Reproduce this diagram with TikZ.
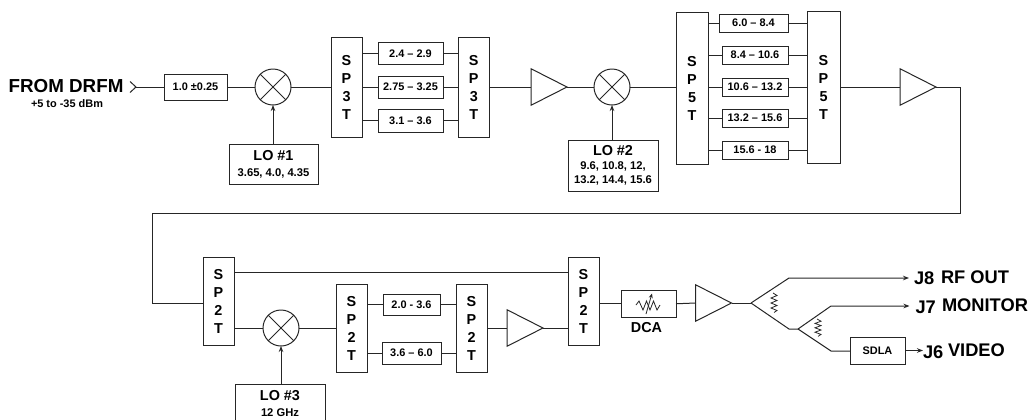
\documentclass[tikz,border=0pt]{standalone}
\usepackage{fontspec}
\setmainfont{Liberation Sans}
\usetikzlibrary{arrows.meta,shapes.geometric}
\newcommand\rfbox[6][]{%
  \pgfmathsetmacro\bcx{(#3+#5)/2}%
  \pgfmathsetmacro\bcy{(#4+#6)/2}%
  \pgfmathsetmacro\bw{(#5-#3)*0.75}%
  \pgfmathsetmacro\bh{(#6-#4)*0.75}%
  \node[rfblock,minimum width=\bw pt,minimum height=\bh pt,#1] (#2) at (\bcx,\bcy)}
\tikzset{
  x=0.75pt,y=-0.75pt,
  wire/.style={line width=0.75pt,black!85,line join=miter},
  arr/.style={wire,-{Stealth[length=4.5pt,width=3.4pt]}},
  rfblock/.style={draw=black!85,line width=0.75pt,inner sep=0pt,outer sep=0pt,fill=white,align=center},
  small/.style={font=\fontsize{8.2}{10.5}\selectfont\bfseries},
  sw/.style={font=\fontsize{10.8}{13.5}\selectfont\bfseries},
  mid/.style={font=\fontsize{10.8}{13.5}\selectfont\bfseries},
  big/.style={font=\fontsize{13.7}{16}\selectfont\bfseries},
  lobox/.style={font=\fontsize{10.8}{11}\selectfont\bfseries},
  mixer/.style={circle,draw=black!85,line width=0.75pt,minimum size=27pt,inner sep=0pt,outer sep=0pt,
    path picture={\draw[line width=0.75pt,black!85]
      (path picture bounding box.north west)--(path picture bounding box.south east)
      (path picture bounding box.north east)--(path picture bounding box.south west);}},
  amp/.style={isosceles triangle,isosceles triangle stretches,draw=black!85,line width=0.75pt,
    minimum width=27.4pt,minimum height=27pt,inner sep=0pt,outer sep=0pt,anchor=lower side},
  txt/.style={inner sep=0pt,outer sep=0pt},
}
\newcommand\losub{\fontsize{8.4}{10.8}\selectfont}
\begin{document}
\begin{tikzpicture}
\useasboundingbox (0,0) rectangle (1031,419);
% input
\node[txt,font=\fontsize{14.1}{16}\selectfont\bfseries] (from) at (66,86) {FROM DRFM};
\node[txt,small] (dbm) at (67,104) {+5 to -35 dBm};
\coordinate (ch1) at (130,81.5);
\coordinate (ch2) at (136,87);
\coordinate (ch3) at (130,92.5);
\rfbox[small]{f0}{164}{74}{227}{100}{1.0 ±0.25};
\node[mixer] (m1) at (273,87) {};
\rfbox[lobox]{lo1}{229}{144}{318}{184}{LO \#1\\[1pt]\losub 3.65, 4.0, 4.35};
\rfbox[sw]{s31}{331}{37}{362}{137}{S\\P\\3\\T};
\rfbox[small]{f31}{378}{42.7}{443}{64.7}{2.4 – 2.9};
\rfbox[small]{f32}{378}{76}{443}{98}{2.75 – 3.25};
\rfbox[small]{f33}{378}{109.5}{443}{132}{3.1 – 3.6};
\rfbox[sw]{s32}{458.5}{37}{489}{137}{S\\P\\3\\T};
\node[amp] (a1) at (531,87) {};
\node[mixer] (m2) at (612,87) {};
\rfbox[lobox]{lo2}{568}{140}{658}{191}{LO \#2\\[-0.5pt]\losub 9.6, 10.8, 12,\\[-0.5pt]\losub 13.2, 14.4, 15.6};
\rfbox[sw]{s51}{676}{12}{708}{164}{S\\P\\5\\T};
\rfbox[small]{f51}{719}{14}{788}{32}{6.0 – 8.4};
\rfbox[small]{f52}{722}{46}{788}{64}{8.4 – 10.6};
\rfbox[small]{f53}{722}{78}{788}{96}{10.6 – 13.2};
\rfbox[small]{f54}{722}{109}{788}{127}{13.2 – 15.6};
\rfbox[small]{f55}{722}{141}{788}{159}{15.6 - 18};
\rfbox[sw]{s52}{807}{11}{840}{163}{S\\P\\5\\T};
\node[amp] (a2) at (900,87) {};
\coordinate (c1) at (960,213);
\coordinate (c2) at (152,303);
% second row
\rfbox[sw]{s21}{203}{257}{234}{345}{S\\P\\2\\T};
\node[mixer] (m3) at (281,328) {};
\rfbox[lobox]{lo3}{235}{384}{325}{423}{LO \#3\\[1.5pt]\losub 12 GHz};
\rfbox[sw]{s22}{336}{284}{367}{372}{S\\P\\2\\T};
\rfbox[small]{f21}{383}{294}{440}{315}{2.0 - 3.6};
\rfbox[small]{f22}{382}{342}{441}{364}{3.6 – 6.0};
\rfbox[sw]{s23}{456}{284}{487}{372}{S\\P\\2\\T};
\node[amp] (a3) at (507,328) {};
\rfbox[sw]{s24}{568}{257}{599}{345}{S\\P\\2\\T};
\rfbox{dca}{621}{290}{676}{317.5}{};
\node[txt,mid] (dcat) at (646.5,328) {DCA};
\node[amp] (a4) at (695.5,303) {};
\coordinate (sp1) at (751,303);
\coordinate (sp1u) at (789,278);
\coordinate (sp1d) at (789,329);
\coordinate (sp2) at (798,329);
\coordinate (sp2u) at (831,306);
\coordinate (sp2d) at (831,351);
\coordinate (t8) at (909,278);
\coordinate (t7) at (909.5,306);
\rfbox[small]{sdla}{850}{337}{905}{364}{SDLA};
\node[txt,big,anchor=west] (j8) at (914,278.5) {J8};
\node[txt,big,anchor=west] (rf) at (941,277.5) {RF OUT};
\node[txt,big,anchor=west] (j7) at (915.5,307) {J7};
\node[txt,big,anchor=west] (mon) at (942,305.5) {MONITOR};
\node[txt,big,anchor=west] (j6) at (923,352) {J6};
\node[txt,big,anchor=west] (vid) at (948,350) {VIDEO};
% wires row 1
\draw[wire] (ch1)--(ch2)--(ch3);
\draw[wire] (ch2)--(f0.west);
\draw[wire] (f0.east)--(m1.west);
\draw[wire] (m1.east)--(m1.east-|s31.west);
\draw[arr] (lo1.north-|m1.south)--(m1.south);
\foreach \f in {f31,f32,f33}{
  \draw[wire] (s31.east|-\f.west)--(\f.west);
  \draw[wire] (\f.east)--(s32.west|-\f.east);
}
\draw[wire] (s32.east|-a1.lower side)--(a1.lower side);
\draw[wire] (a1.apex)--(m2.west);
\draw[arr] (lo2.north-|m2.south)--(m2.south);
\draw[wire] (m2.east)--(s51.west|-m2.east);
\foreach \f in {f51,f52,f53,f54,f55}{
  \draw[wire] (s51.east|-\f.west)--(\f.west);
  \draw[wire] (\f.east)--(s52.west|-\f.east);
}
\draw[wire] (s52.east|-a2.lower side)--(a2.lower side);
\draw[wire] (a2.apex) -| (c1) -| (c2) -- (s21.west|-c2);
% wires row 2
\coordinate (top) at (234,272);
\draw[wire] (s21.east|-top)--(s24.west|-top);
\draw[wire] (s21.east|-m3.west)--(m3.west);
\draw[wire] (m3.east)--(s22.west|-m3.east);
\draw[arr] (lo3.north-|m3.south)--(m3.south);
\foreach \f in {f21,f22}{
  \draw[wire] (s22.east|-\f.west)--(\f.west);
  \draw[wire] (\f.east)--(s23.west|-\f.east);
}
\draw[wire] (s23.east|-a3.lower side)--(a3.lower side);
\draw[wire] (a3.apex)--(s24.west|-a3.apex);
\draw[wire] (s24.east|-dca.west)--(dca.west);
\draw[wire] (dca.east)--(a4.lower side);
\draw[wire] (a4.apex)--(sp1);
\draw[arr] (sp1)--(sp1u)--(t8);
\draw[wire] (sp1)--(sp1d)--(sp2);
\draw[arr] (sp2)--(sp2u)--(t7);
\draw[wire] (sp2)--(sp2d)--(sdla.west|-sp2d);
\draw[arr] (sdla.east)--(j6.west|-sdla.east);
% resistors
\draw[wire,line width=0.6pt] (773,293)--++(4,2.5)--++(-6,2.5)--++(6,2.5)--++(-6,2.5)--++(6,2.5)--++(-6,2.5)--++(6,2.5)--++(-3,2);
\draw[wire,line width=0.6pt] (817,319)--++(4,2.2)--++(-6,2.2)--++(6,2.2)--++(-6,2.2)--++(6,2.2)--++(-6,2.2)--++(6,2.2)--++(-3,2);
% attenuator symbol
\draw[wire,line width=0.6pt] (636,305)--++(3,-4)--++(4,9)--++(3.5,-9)--++(3.5,9)--++(3.5,-9)--++(3.5,9)--++(3,-5);
\draw[wire,line width=0.6pt,-{Stealth[length=3.5pt,width=3pt]}] (646,314)--(652,293.5);
\end{tikzpicture}
\end{document}
